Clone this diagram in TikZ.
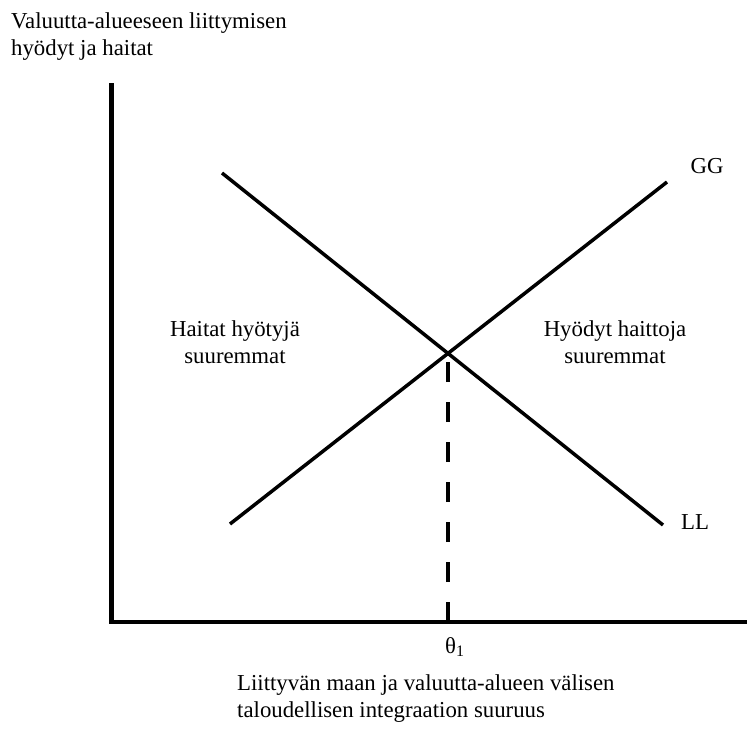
\documentclass[tikz,border=0pt]{standalone}
\usepackage{fontspec}
\setmainfont{Liberation Serif}
\usetikzlibrary{positioning,calc}

\begin{document}
\begin{tikzpicture}[
  x=1pt, y=-1pt,
  font=\fontsize{22.8}{27}\selectfont,
  axis/.style={line width=4.5pt, line join=miter},
  curve/.style={line width=3.5pt},
  guide/.style={line width=4pt, dash pattern=on 20pt off 20pt},
  lab/.style={inner sep=0pt, align=center},
  txt/.style={inner sep=0pt, align=left, anchor=base west}
]
\path[use as bounding box] (0,0) rectangle (747,737);

% ---------------- axes ----------------
\coordinate (ytop) at (111.5,83);
\coordinate (origin) at (111.5,622);
\coordinate (xend) at (747,622);
\draw[axis] (ytop) -- (origin) -- (xend);

% ---------------- curves ----------------
\coordinate (llstart) at (222,173);
\coordinate (llend) at (663,525);
\coordinate (ggstart) at (230,524);
\coordinate (ggend) at (667,182);
\draw[curve] (llstart) -- (llend);
\draw[curve] (ggstart) -- (ggend);
\coordinate (eq) at (448,353);
\draw[guide] (eq |- origin) -- (eq);

% ---------------- labels ----------------
\node[lab] (gg) at (707,166) {GG};
\node[lab] (ll) at (695,522) {LL};
% base anchor = last line
\node[lab, anchor=base] (left) at (235,363) {Haitat hyötyjä\\ suuremmat};
\node[lab, anchor=base] (right) at (615,363) {Hyödyt haittoja\\ suuremmat};
\node[lab, anchor=base west] (theta) at (445,653) {θ\textsubscript{1}};

% ---------------- axis titles ----------------
\node[txt] (ytitle) at (11,55) {Valuutta-alueeseen liittymisen\\ hyödyt ja haitat};
\node[txt] (xtitle) at (237,717) {Liittyvän maan ja valuutta-alueen välisen\\ taloudellisen integraation suuruus};

\end{tikzpicture}
\end{document}
